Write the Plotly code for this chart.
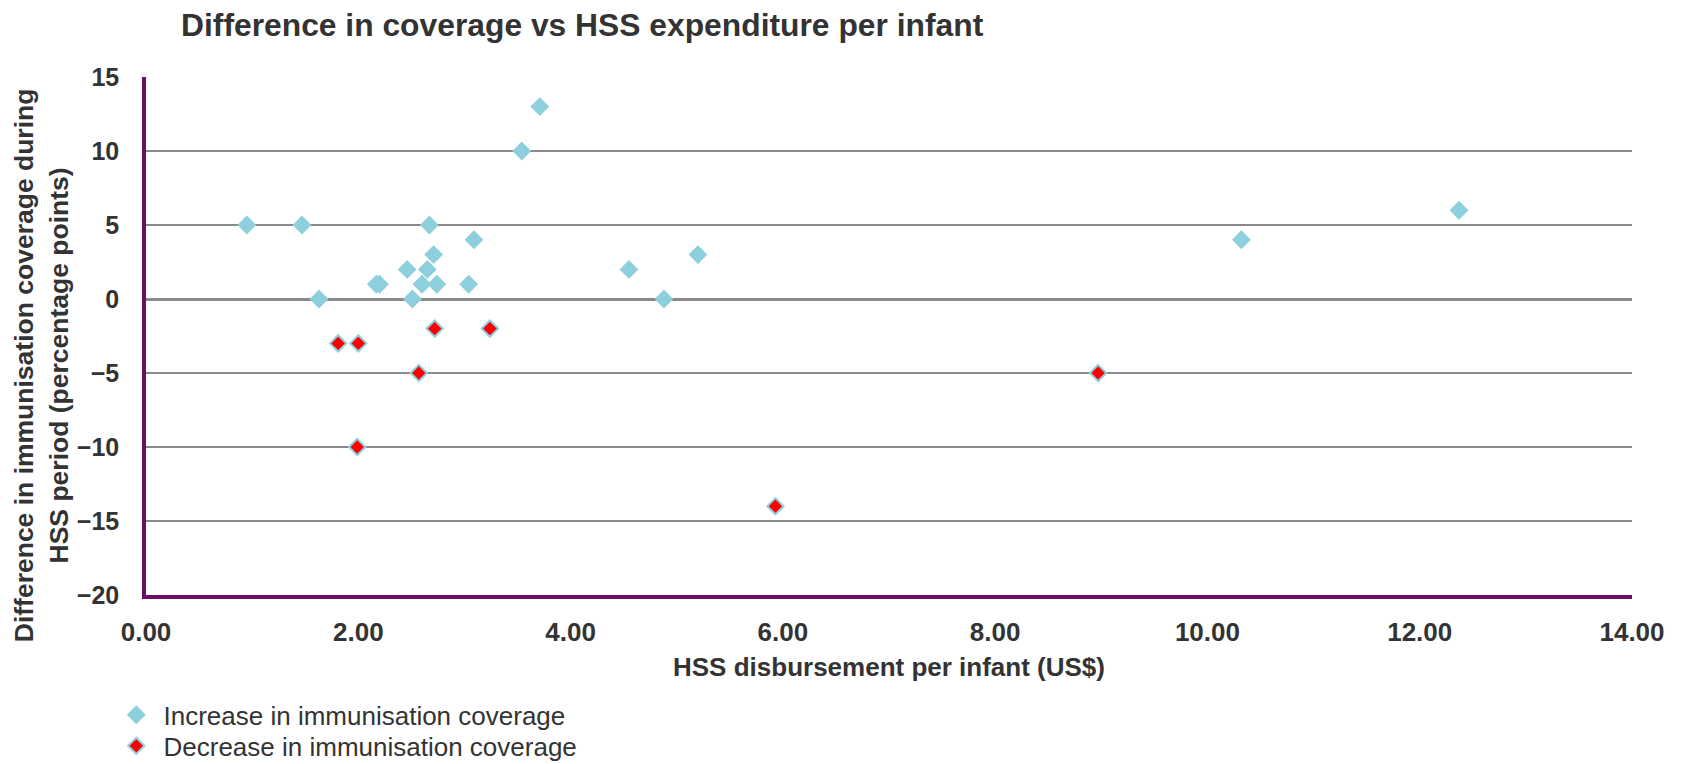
import plotly.graph_objects as go

# HSS disbursement per infant (US$) and change in coverage (percentage points)
increase_x = [0.95, 1.47, 1.63, 2.17, 2.20, 2.46, 2.51, 2.60, 2.67, 2.65, 2.71,
              2.74, 3.04, 3.09, 3.54, 3.71, 4.55, 4.88, 5.20, 10.32, 12.37]
increase_y = [5, 5, 0, 1, 1, 2, 0, 1, 5, 2, 3,
              1, 1, 4, 10, 13, 2, 0, 3, 4, 6]

decrease_x = [1.81, 2.00, 1.99, 2.57, 2.72, 3.24, 5.93, 8.97]
decrease_y = [-3, -3, -10, -5, -2, -2, -14, -5]

x_ticks = [0, 2, 4, 6, 8, 10, 12, 14]
y_ticks = [15, 10, 5, 0, -5, -10, -15, -20]

FONT = "Liberation Sans, Arial, sans-serif"
TEXT = "#333333"
CYAN = "#8ECFDD"
RED = "#FF0000"
PURPLE = "#6c0d61"
GRID = "#8a8a8a"
GAP = "\u00a0"

fig = go.Figure()

fig.add_trace(go.Scatter(
    x=increase_x, y=increase_y, mode="markers",
    name=GAP + "Increase in immunisation coverage", legend="legend",
    marker=dict(symbol="diamond", size=14.5, color=CYAN, line=dict(width=0)),
))
fig.add_trace(go.Scatter(
    x=decrease_x, y=decrease_y, mode="markers",
    name=GAP + "Decrease in immunisation coverage", legend="legend2",
    marker=dict(symbol="diamond", size=12.5, color=RED, line=dict(width=2, color=CYAN)),
))

# soft shadow under the horizontal axis line
fig.add_shape(type="line", xref="x", yref="y", ysizemode="pixel", yanchor=-20,
              x0=0, x1=14, y0=-3.5, y1=-3.5,
              line=dict(color="rgba(0,0,0,0.18)", width=3), layer="below")

legend_style = dict(
    x=-0.02, xanchor="left", yanchor="top",
    font=dict(size=26, color=TEXT, family=FONT),
    bgcolor="rgba(0,0,0,0)", itemwidth=30,
)

fig.update_layout(
    width=1681, height=764,
    margin=dict(l=146, r=49, t=77, b=169, autoexpand=False),
    paper_bgcolor="white", plot_bgcolor="white",
    font=dict(family=FONT, color=TEXT),
    title=dict(
        text="<b>Difference in coverage vs HSS expenditure per infant</b>",
        font=dict(size=31.8, color=TEXT, family=FONT),
        x=181 / 1681, xanchor="left", xref="container",
        y=1 - 25 / 764, yanchor="middle", yref="container",
    ),
    showlegend=True,
    legend=dict(y=-0.186, **legend_style),
    legend2=dict(y=-0.246, **legend_style),
    xaxis=dict(
        range=[0, 14], tickvals=x_ticks, tickformat=".2f",
        showgrid=False, zeroline=False,
        showline=True, linecolor=PURPLE, linewidth=3.5,
        ticks="outside", ticklen=11, tickcolor="rgba(0,0,0,0)",
        tickfont=dict(size=26, color=TEXT, family=FONT, weight="bold"),
    ),
    yaxis=dict(
        range=[-20, 15], tickvals=y_ticks,
        showgrid=True, gridcolor=GRID, gridwidth=1.7,
        zeroline=True, zerolinecolor=GRID, zerolinewidth=3.2,
        showline=True, linecolor=PURPLE, linewidth=3.5,
        ticks="outside", ticklen=18, tickcolor="rgba(0,0,0,0)",
        tickfont=dict(size=25, color=TEXT, family=FONT, weight="bold"),
    ),
    annotations=[
        dict(text="<b>HSS disbursement per infant (US$)</b>",
             xref="paper", yref="paper", x=0.5, y=-0.139,
             xanchor="center", yanchor="middle", showarrow=False,
             font=dict(size=26, color=TEXT, family=FONT)),
        dict(text="<b>Difference in immunisation coverage during<br>HSS period (percentage points)</b>",
             xref="paper", yref="paper", x=-0.0705, y=0.444, textangle=-90,
             xanchor="center", yanchor="middle", showarrow=False,
             font=dict(size=26.5, color=TEXT, family=FONT)),
    ],
)

fig.write_html("out.html", config={"displayModeBar": False})
